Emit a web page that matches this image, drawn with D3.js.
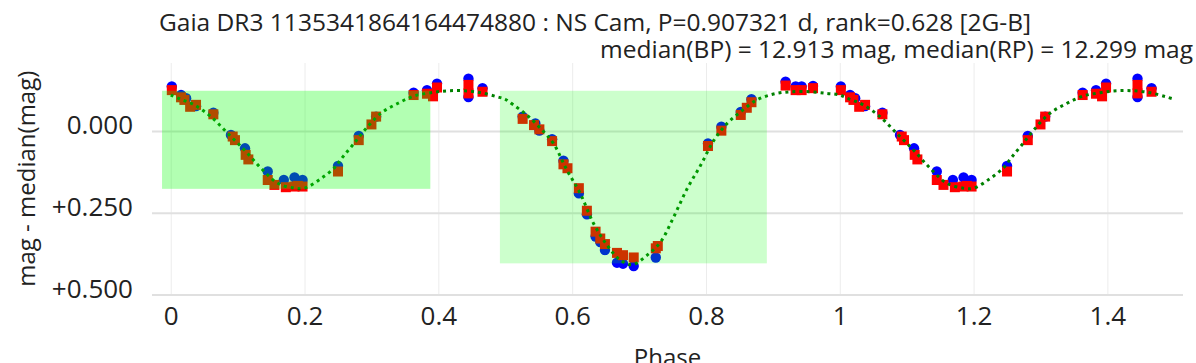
<!DOCTYPE html>
<html>
<head>
<meta charset="utf-8">
<script src="https://cdn.jsdelivr.net/npm/d3@7"></script>
<style>
  html, body { margin: 0; padding: 0; background: #fff; }
  svg { display: block; font-family: "Open Sans", sans-serif; }
</style>
</head>
<body>
<svg id="chart" width="1196" height="363"></svg>
<script>
// ---------- data ----------
const titleLine1 = "Gaia DR3 1135341864164474880 : NS Cam, P=0.907321 d, rank=0.628 [2G-B]";
const titleLine2 = "median(BP) = 12.913 mag, median(RP) = 12.299 mag";
const xAxisTitle = "Phase";
const yAxisTitle = "mag - median(mag)";

const xTicks = [0, 0.2, 0.4, 0.6, 0.8, 1, 1.2, 1.4];
const xTickLabels = ["0", "0.2", "0.4", "0.6", "0.8", "1", "1.2", "1.4"];
const yTicks = [0, 0.25, 0.5];
const yTickLabels = ["0.000", "+0.250", "+0.500"];

// BP (blue circles), phase in [0,1)
const bpPhase = [0.0016, 0.0154, 0.023, 0.0378, 0.0637, 0.090, 0.111, 0.145, 0.169, 0.185, 0.197, 0.250,
  0.281, 0.307, 0.363, 0.383, 0.398, 0.445, 0.445, 0.466,
  0.526, 0.545, 0.551, 0.570, 0.587, 0.610, 0.622, 0.635, 0.642, 0.649, 0.667, 0.676, 0.692, 0.725,
  0.803, 0.823, 0.852, 0.868, 0.919, 0.934, 0.943, 0.960];
const bpMag = [-0.136, -0.110, -0.100, -0.076, -0.056, 0.012, 0.053, 0.124, 0.150, 0.142, 0.150, 0.107,
  0.015, -0.044, -0.117, -0.125, -0.145, -0.160, -0.104, -0.131,
  -0.044, -0.023, -0.001, 0.025, 0.091, 0.191, 0.255, 0.323, 0.340, 0.364, 0.403, 0.406, 0.413, 0.387,
  0.038, -0.013, -0.058, -0.097, -0.151, -0.136, -0.136, -0.138];

// RP (red squares)
const rpPhase = [0.0016, 0.0154, 0.0204, 0.029, 0.0378, 0.0637, 0.0926, 0.096, 0.112, 0.116, 0.145, 0.155,
  0.172, 0.185, 0.190, 0.197, 0.250, 0.281, 0.300, 0.307, 0.363, 0.383, 0.392, 0.398, 0.445, 0.445, 0.466,
  0.526, 0.543, 0.551, 0.570, 0.587, 0.593, 0.610, 0.622, 0.635, 0.642, 0.649, 0.667, 0.676, 0.692,
  0.725, 0.728, 0.803, 0.823, 0.852, 0.861, 0.868, 0.919, 0.934, 0.943, 0.960];
const rpMag = [-0.125, -0.103, -0.095, -0.074, -0.080, -0.051, 0.017, 0.028, 0.073, 0.087, 0.150, 0.165,
  0.172, 0.170, 0.168, 0.170, 0.124, 0.028, -0.020, -0.044, -0.110, -0.114, -0.106, -0.133, -0.141, -0.115, -0.120,
  -0.037, -0.018, -0.005, 0.031, 0.102, 0.114, 0.175, 0.244, 0.308, 0.329, 0.346, 0.373, 0.380, 0.387,
  0.359, 0.352, 0.046, -0.001, -0.049, -0.071, -0.088, -0.139, -0.125, -0.125, -0.131];

// model light curve (green dotted)
const modelPhase = [0.000, 0.015, 0.035, 0.060, 0.085, 0.110, 0.135, 0.160, 0.185, 0.200, 0.225, 0.245,
  0.257, 0.272, 0.290, 0.314, 0.339, 0.364, 0.389, 0.414, 0.439, 0.464, 0.487, 0.500, 0.512, 0.532,
  0.555, 0.572, 0.592, 0.612, 0.632, 0.652, 0.672, 0.690, 0.712, 0.732, 0.752, 0.772, 0.792, 0.812,
  0.832, 0.852, 0.876, 0.901, 0.926, 0.956, 0.981, 1.000];
const modelMag = [-0.110, -0.097, -0.080, -0.044, 0.007, 0.058, 0.114, 0.160, 0.175, 0.175, 0.145, 0.112,
  0.080, 0.043, -0.003, -0.054, -0.084, -0.107, -0.117, -0.123, -0.123, -0.117, -0.105, -0.097, -0.080, -0.049,
  -0.003, 0.038, 0.119, 0.191, 0.283, 0.349, 0.395, 0.409, 0.380, 0.340, 0.262, 0.176, 0.105, 0.028,
  -0.024, -0.059, -0.095, -0.113, -0.120, -0.120, -0.115, -0.110];

// eclipse windows
const eclipseStart = [-0.013, 0.492];
const eclipseEnd = [0.388, 0.891];
const eclipseTop = [-0.123, -0.123];
const eclipseBottom = [0.177, 0.405];
const eclipseOpacity = [0.3, 0.2];

// ---------- layout ----------
const svg = d3.select("#chart");
const W = 1196, H = 363;
const plot = { left: 152, right: 1183, top: 63, bottom: 294.4 };

const x = d3.scaleLinear().domain([-0.028, 1.513]).range([plot.left, plot.right]);
const y = d3.scaleLinear().domain([-0.208, 0.5]).range([plot.top, plot.bottom]);

// fold: repeat phases < 0.5 at phase+1
function fold(ph, mg) {
  const out = ph.map((p, i) => ({ p, m: mg[i] }));
  ph.forEach((p, i) => { if (p < 0.5) out.push({ p: p + 1, m: mg[i] }); });
  return out;
}
const bp = fold(bpPhase, bpMag);
const rp = fold(rpPhase, rpMag);
const model = modelPhase.map((p, i) => ({ p, m: modelMag[i] }))
  .concat(modelPhase.map((p, i) => ({ p: p + 1, m: modelMag[i] })).filter(d => d.p > 1 && d.p <= 1.5001));

// ---------- grid & axes ----------
const xAxis = d3.axisBottom(x).tickValues(xTicks)
  .tickFormat((d, i) => xTickLabels[i]).tickSize(-(plot.bottom - plot.top)).tickPadding(0);
const gx = svg.append("g").attr("transform", `translate(0,${plot.bottom})`).call(xAxis);
gx.select(".domain").remove();
gx.selectAll(".tick line").attr("stroke", "#ececec").attr("stroke-width", 1);
gx.selectAll(".tick text").attr("font-size", 26).attr("fill", "#222")
  .attr("font-family", "Open Sans").attr("y", 0).attr("dy", 31);

const yAxis = d3.axisLeft(y).tickValues(yTicks)
  .tickFormat((d, i) => yTickLabels[i]).tickSize(-(plot.right - plot.left)).tickPadding(0);
const gy = svg.append("g").attr("transform", `translate(${plot.left},0)`).call(yAxis);
gy.select(".domain").remove();
gy.selectAll(".tick line").attr("stroke", "#e0e0e0").attr("stroke-width", 2);
gy.selectAll(".tick text").attr("font-size", 26).attr("fill", "#222")
  .attr("font-family", "Open Sans").attr("x", -19).attr("dy", 2.6).attr("dominant-baseline", "auto");

// ---------- marks ----------
const lineGen = d3.line().x(d => x(d.p)).y(d => y(d.m)).curve(d3.curveCatmullRom.alpha(0.5));

svg.append("g").selectAll("circle").data(bp).join("circle")
  .attr("cx", d => x(d.p)).attr("cy", d => y(d.m)).attr("r", 5.2).attr("fill", "#0000ff");

const sq = 10;
svg.append("g").selectAll("rect").data(rp).join("rect")
  .attr("x", d => x(d.p) - sq / 2).attr("y", d => y(d.m) - sq / 2)
  .attr("width", sq).attr("height", sq).attr("fill", "#ff0000");

svg.append("path").datum(model).attr("d", lineGen)
  .attr("fill", "none").attr("stroke", "#008000").attr("stroke-width", 3)
  .attr("stroke-dasharray", "3,4");

// eclipse shading (drawn above the data)
svg.append("g").selectAll("rect").data(eclipseStart).join("rect")
  .attr("x", (d, i) => x(eclipseStart[i]))
  .attr("y", (d, i) => y(eclipseTop[i]))
  .attr("width", (d, i) => x(eclipseEnd[i]) - x(eclipseStart[i]))
  .attr("height", (d, i) => y(eclipseBottom[i]) - y(eclipseTop[i]))
  .attr("fill", "#00ff00").attr("fill-opacity", (d, i) => eclipseOpacity[i]);

// ---------- titles ----------
svg.append("text").attr("x", 159).attr("y", 31).attr("font-size", 24.5).attr("fill", "#222")
  .text(titleLine1);
svg.append("text").attr("x", 1193).attr("y", 58).attr("text-anchor", "end")
  .attr("font-size", 24.5).attr("fill", "#222").text(titleLine2);

svg.append("text").attr("x", (plot.left + plot.right) / 2).attr("y", 366)
  .attr("text-anchor", "middle").attr("font-size", 24).attr("fill", "#222").text(xAxisTitle);
svg.append("text").attr("transform", `translate(35,${(plot.top + plot.bottom) / 2}) rotate(-90)`)
  .attr("text-anchor", "middle").attr("font-size", 24).attr("fill", "#222").text(yAxisTitle);
</script>
</body>
</html>
